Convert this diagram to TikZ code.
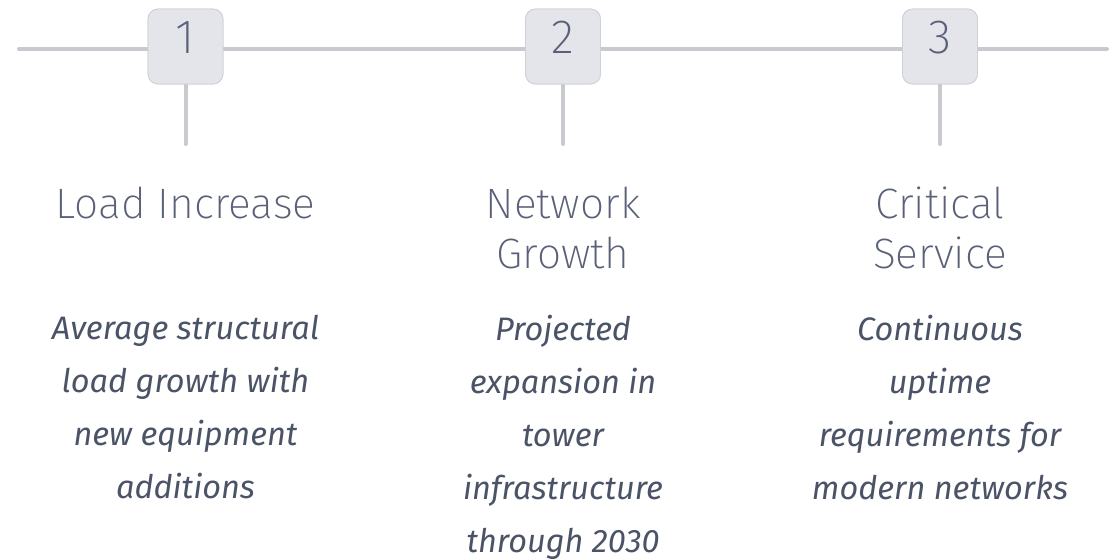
\documentclass[tikz,border=0pt]{standalone}
\usepackage{fontspec}
\newfontfamily\titlefont{Fira Sans ExtraLight}
\newfontfamily\descfont{Fira Sans}
\definecolor{linegray}{HTML}{C9CACF}
\definecolor{boxfill}{HTML}{E4E5EA}
\definecolor{boxdraw}{HTML}{D0D1D6}
\definecolor{titlecol}{HTML}{596077}
\definecolor{desccol}{HTML}{4B5367}
\begin{document}
\begin{tikzpicture}[x=1pt,y=-1pt,
  connector/.style={draw=linegray,line width=4pt,line cap=round},
  numbox/.style={draw=boxdraw,line width=0.8pt,fill=boxfill,rounded corners=10pt,minimum size=75pt,inner sep=0pt},
  numtext/.style={font=\titlefont\fontsize{48}{48}\selectfont,text=titlecol,inner sep=0pt,anchor=base},
  titletext/.style={font=\titlefont\fontsize{42.5}{50}\selectfont,text=titlecol,inner sep=0pt,align=center,anchor=north},
  desctext/.style={font=\descfont\itshape\fontsize{32.5}{53}\selectfont,text=desccol,inner sep=0pt,align=center,anchor=north}]
\useasboundingbox (0,0) rectangle (1115,558);
\coordinate (L) at (19,49);
\coordinate (R) at (1107,49);
\node[numbox] (b1) at (185.5,46.5) {};
\node[numbox] (b2) at (563,46.5) {};
\node[numbox] (b3) at (940,46.5) {};
\coordinate (s1) at (185.5,144);
\coordinate (s2) at (563,144);
\coordinate (s3) at (940,144);
\path[connector] (L) -- (L -| b1.west);
\path[connector] (L -| b1.east) -- (L -| b2.west);
\path[connector] (L -| b2.east) -- (L -| b3.west);
\path[connector] (L -| b3.east) -- (R);
\path[connector] (b1.south) -- (s1);
\path[connector] (b2.south) -- (s2);
\path[connector] (b3.south) -- (s3);
\node[numbox] at (b1) {};
\node[numbox] at (b2) {};
\node[numbox] at (b3) {};
\node[numtext] (n1) at (185.5,53.5) {1};
\node[numtext] (n2) at (563,53.5) {2};
\node[numtext] (n3) at (940,53.5) {3};
\node[titletext] (t1) at (185.5,187) {Load Increase};
\node[titletext] (t2) at (563,187) {Network\\Growth};
\node[titletext] (t3) at (940,187) {Critical\\Service};
\node[desctext] (d1) at (185.5,315) {Average structural\\load growth with\\new equipment\\additions};
\node[desctext] (d2) at (563,315) {Projected\\expansion in\\tower\\infrastructure\\through 2030};
\node[desctext] (d3) at (940,315) {Continuous\\uptime\\requirements for\\modern networks};
\end{tikzpicture}
\end{document}
